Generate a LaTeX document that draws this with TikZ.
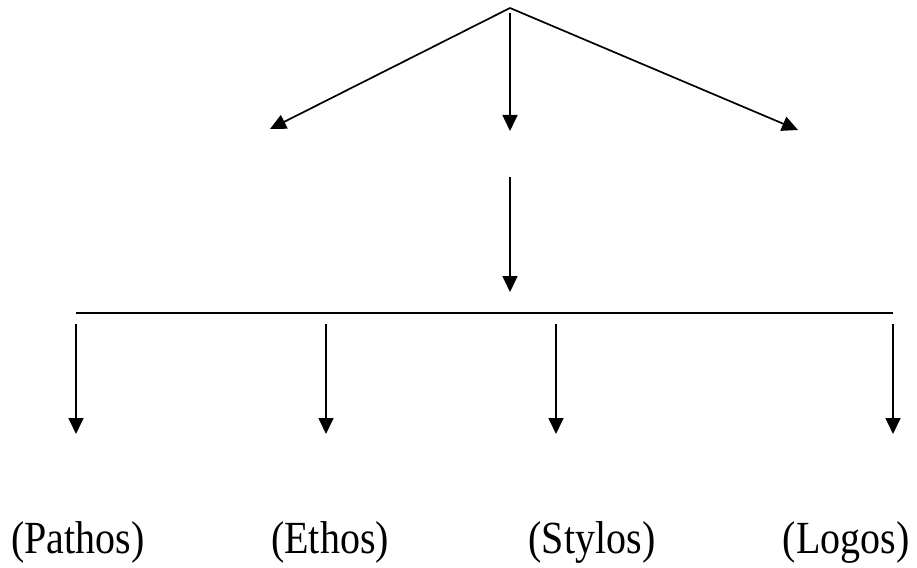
\documentclass[tikz,border=0pt]{standalone}
\usepackage{fontspec}
\setmainfont{Liberation Serif}
\usetikzlibrary{arrows.meta}
\newcommand{\tallt}[1]{\scalebox{1}[1.15]{#1}}
\begin{document}
\begin{tikzpicture}[x=1pt,y=-1pt,
  conn/.style={line width=1.7pt,-{Triangle[length=16pt,width=15pt]}},
  bar/.style={line width=1.7pt},
  lbl/.style={font=\fontsize{40}{48}\selectfont,anchor=base,inner sep=0pt}]
\useasboundingbox (0,0) rectangle (917,567);
% top
\coordinate (apex) at (510,8);
\coordinate (apexm) at (510,13);
\coordinate (tl) at (270,129);
\coordinate (tm) at (510,131);
\coordinate (tr) at (798,130);
\draw[conn] (apex) -- (tl);
\draw[conn] (apexm) -- (tm);
\draw[conn] (apex) -- (tr);
% middle
\coordinate (ms) at (510,177);
\coordinate (me) at (510,292);
\draw[conn] (ms) -- (me);
% bar
\coordinate (bl) at (76,313);
\coordinate (br) at (893,313);
\draw[bar] (bl) -- (br);
% bottom arrows
\foreach \n/\x in {a/76,b/326,c/556,d/893}{
  \coordinate (s\n) at (\x,324);
  \coordinate (e\n) at (\x,434);
  \draw[conn] (s\n) -- (e\n);
}
% labels
\node[lbl] (pathos) at (78,553) {\tallt{(Pathos)}};
\node[lbl] (ethos) at (330,553) {\tallt{(Ethos)}};
\node[lbl] (stylos) at (592,553) {\tallt{(Stylos)}};
\node[lbl] (logos) at (846,553) {\tallt{(Logos)}};
\end{tikzpicture}
\end{document}
